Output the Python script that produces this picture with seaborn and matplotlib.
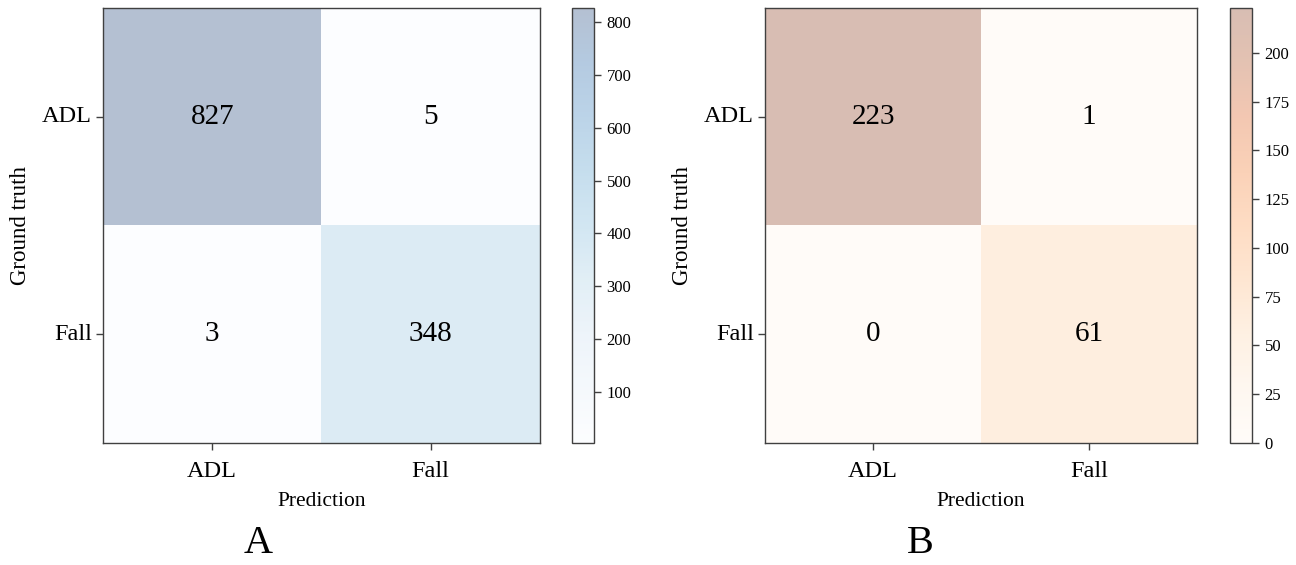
import matplotlib
matplotlib.use('Agg')
import matplotlib.pyplot as plt
import seaborn as sns
import numpy as np
import pandas as pd

# 数据
classes = ['ADL', 'Fall']
cm_a = [[827, 5],
        [3, 348]]
cm_b = [[223, 1],
        [0, 61]]

sns.set_style('white')
plt.rcParams['font.family'] = ['Liberation Serif', 'DejaVu Serif']
plt.rcParams['text.color'] = 'black'
plt.rcParams['axes.labelcolor'] = 'black'
plt.rcParams['xtick.color'] = 'black'
plt.rcParams['ytick.color'] = 'black'

fig = plt.figure(figsize=(12.96, 5.65), dpi=100)

ax_a = fig.add_axes([0.0795, 0.216, 0.337, 0.770])
cax_a = fig.add_axes([0.4414, 0.216, 0.017, 0.770])
ax_b = fig.add_axes([0.5903, 0.216, 0.3335, 0.770])
cax_b = fig.add_axes([0.9491, 0.216, 0.017, 0.770])

panels = [
    (ax_a, cax_a, cm_a, 'Blues', 'A', 0.199, np.arange(100, 801, 100)),
    (ax_b, cax_b, cm_b, 'Oranges', 'B', 0.710, np.arange(0, 201, 25)),
]

for ax, cax, cm, cmap, letter, lx, ticks in panels:
    df = pd.DataFrame(cm, index=classes, columns=classes)
    sns.heatmap(df, ax=ax, cbar_ax=cax, cmap=cmap, alpha=0.3, annot=True, fmt='d',
                annot_kws={'size': 21, 'color': 'black'},
                cbar_kws={'ticks': ticks})
    for s in ax.spines.values():
        s.set_visible(True)
        s.set_color('#404040')
        s.set_linewidth(1.0)
    ax.tick_params(axis='x', length=5, width=1, color='#404040',
                   labelsize=17.5, bottom=True, pad=8)
    ax.tick_params(axis='y', length=5, width=1, color='#404040',
                   labelsize=17.5, left=True, pad=3)
    ax.set_yticklabels(classes, rotation=0)
    ax.set_xticklabels(classes, rotation=0)
    ax.set_xlabel('Prediction', fontsize=15.5, labelpad=7)
    ax.set_ylabel('Ground truth', fontsize=16.5, labelpad=8)
    cbar = ax.collections[0].colorbar
    cbar.ax.tick_params(labelsize=12, length=5, width=1, color='#404040', right=True, pad=4)
    cbar.outline.set_visible(True)
    cbar.outline.set_edgecolor('#404040')
    cbar.outline.set_linewidth(1.0)
    fig.text(lx, 0.005, letter, ha='center', va='bottom', fontsize=29)

fig.savefig('out.png', dpi=100)
